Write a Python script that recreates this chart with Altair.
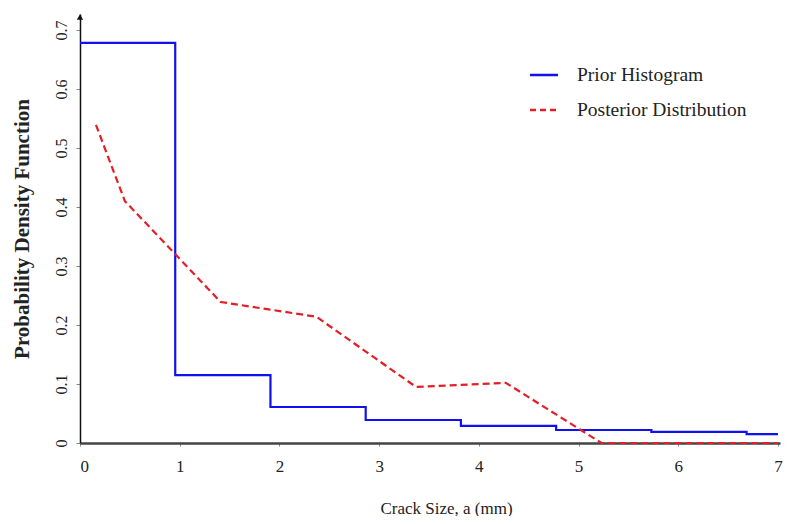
import altair as alt
import pandas as pd

# Prior histogram (bin edges and densities)
prior_edges = [0.0, 0.955, 1.91, 2.865, 3.82, 4.775, 5.73, 6.685, 7.0]
prior_density = [0.678, 0.115, 0.061, 0.039, 0.029, 0.022, 0.019, 0.015]

# Posterior distribution
post_x = [0.16, 0.45, 1.41, 2.37, 3.37, 4.27, 5.23, 7.0]
post_y = [0.539, 0.41, 0.239, 0.214, 0.095, 0.102, 0.0, 0.0]

series_names = ["Prior Histogram", "Posterior Distribution"]
series_colors = ["#1010f0", "#e41e26"]
x_ticks = [0, 1, 2, 3, 4, 5, 6, 7]
y_ticks = [0, 0.1, 0.2, 0.3, 0.4, 0.5, 0.6, 0.7]

rows = []
for i, e in enumerate(prior_edges):
    d = prior_density[min(i, len(prior_density) - 1)]
    rows.append({"x": e, "y": d, "series": series_names[0], "order": i})
for i, (xv, yv) in enumerate(zip(post_x, post_y)):
    rows.append({"x": xv, "y": yv, "series": series_names[1], "order": i})
df = pd.DataFrame(rows)

FONT = "Liberation Serif"

xscale = alt.Scale(domain=[0, 7.02], nice=False, zero=False)
yscale = alt.Scale(domain=[0, 0.727], nice=False)

color = alt.Color(
    "series:N",
    scale=alt.Scale(domain=series_names, range=series_colors),
    legend=None,
)
dash = alt.StrokeDash(
    "series:N",
    scale=alt.Scale(domain=series_names, range=[[1, 0], [7, 4]]),
    legend=None,
)

prior = (
    alt.Chart(df)
    .transform_filter(alt.datum.series == series_names[0])
    .mark_line(interpolate="step-after", strokeWidth=2.2)
    .encode(
        x=alt.X(
            "x:Q",
            scale=xscale,
            axis=alt.Axis(
                title="Crack Size, a (mm)",
                values=x_ticks,
                format="d",
                grid=False,
                domainColor="#444",
                domainWidth=2.5,
                tickColor="#888",
                tickSize=3,
                labelFont=FONT,
                labelFontSize=17,
                labelColor="#222",
                labelPadding=12,
                titleFont=FONT,
                titleFontSize=17,
                titleFontWeight="normal",
                titleColor="#222",
                titlePadding=26,
                titleX=366,
            ),
        ),
        y=alt.Y(
            "y:Q",
            scale=yscale,
            axis=alt.Axis(
                title="Probability Density Function",
                values=y_ticks,
                format=".1~f",
                grid=False,
                domainColor="#111",
                domainWidth=1.5,
                tickColor="#888",
                tickSize=4,
                labelAngle=270,
                labelAlign="center",
                labelBaseline="bottom",
                labelFont=FONT,
                labelFontSize=16,
                labelColor="#222",
                labelPadding=7,
                titleFont=FONT,
                titleFontSize=21,
                titleFontWeight="bold",
                titleColor="#222",
                titlePadding=21,
            ),
        ),
        color=color,
        strokeDash=dash,
        order="order:Q",
    )
)

post = (
    alt.Chart(df)
    .transform_filter(alt.datum.series == series_names[1])
    .mark_line(strokeWidth=2.2)
    .encode(x="x:Q", y="y:Q", color=color, strokeDash=dash, order="order:Q")
)

arrow = (
    alt.Chart(pd.DataFrame({"a": [0]}))
    .mark_point(shape="triangle-up", filled=True, color="#111", size=40, opacity=1)
    .encode(x=alt.value(0), y=alt.value(3))
)

# Manual legend (layout positions only)
one = pd.DataFrame({"a": [0]})
leg_rows = [61, 96]
legend_layers = []
for name, col, ly, dsh in zip(series_names, series_colors, leg_rows, [[1, 0], [6, 4]]):
    legend_layers.append(
        alt.Chart(one)
        .mark_rule(color=col, strokeWidth=2.5, strokeDash=dsh)
        .encode(x=alt.value(450), x2=alt.value(478), y=alt.value(ly))
    )
    legend_layers.append(
        alt.Chart(one)
        .mark_text(text=name, font=FONT, fontSize=19.5, color="#222", align="left", baseline="middle")
        .encode(x=alt.value(497), y=alt.value(ly))
    )

chart = (
    alt.layer(prior, post, arrow, *legend_layers)
    .properties(
        width=700,
        height=429,
        autosize=alt.AutoSizeParams(type="none"),
        padding={"left": 72, "top": 6, "right": 3, "bottom": 73},
    )
    .configure(background="white", font=FONT)
    .configure_view(strokeWidth=0, stroke=None)
)

chart.save("out.html", embed_options={"renderer": "svg", "actions": False})
